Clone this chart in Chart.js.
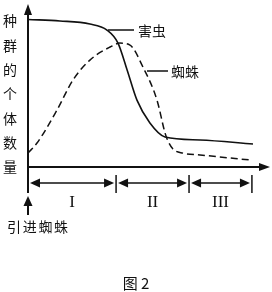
<!DOCTYPE html>
<html><head><meta charset="utf-8">
<script src="https://cdn.jsdelivr.net/npm/chart.js@4"></script>
<style>html,body{margin:0;padding:0;background:#fff}#w{width:272px;height:292px}</style>
</head><body><div id="w"><canvas id="c" width="272" height="292"></canvas></div>
<script>
const pestT = [0, 13.3, 25.8, 32.9, 37.5, 41.3, 45.4, 50.8, 57.1, 71.7, 93.75];
const pestV = [90.5, 89.6, 87.7, 84, 76, 59.5, 41, 27, 18.4, 16.6, 14.1];
const spiderT = [0, 3.75, 12.1, 18.75, 25.8, 34.2, 38.3, 42.5, 47.9, 53.75, 57.1, 58.3, 60.4, 64.6, 71.7, 92.5];
const spiderV = [8.6, 14.7, 35, 53.4, 65.6, 73.6, 76, 74.8, 61.3, 41, 20.9, 16, 11, 8.5, 7.4, 4.3];
const stageBounds = [0, 36.7, 67.1, 93.3];
const stageLabels = ['I', 'II', 'III'];
const yLabel = ['种', '群', '的', '个', '体', '数', '量'];
const seriesNames = ['害虫', '蜘蛛'];
const footNote = ['引', '进', '蜘', '蛛'];
const title = '图 2';

const pts = (t, v) => t.map((x, i) => ({x, y: v[i]}));
const INK = '#111';
function tri(ctx, pts) { ctx.beginPath(); ctx.moveTo(pts[0][0], pts[0][1]); ctx.lineTo(pts[1][0], pts[1][1]); ctx.lineTo(pts[2][0], pts[2][1]); ctx.closePath(); ctx.fill(); }

const deco = {
  id: 'deco',
  afterDraw(chart) {
    const ctx = chart.ctx, xs = chart.scales.x, ys = chart.scales.y, a = chart.chartArea;
    const x0 = xs.getPixelForValue(0), yb = ys.getPixelForValue(0);
    ctx.save();
    ctx.strokeStyle = INK; ctx.fillStyle = INK; ctx.lineWidth = 2;
    // axes
    ctx.beginPath(); ctx.moveTo(x0, yb + 26); ctx.lineTo(x0, a.top + 8); ctx.stroke();
    tri(ctx, [[x0, a.top], [x0 - 4, a.top + 11], [x0 + 4, a.top + 11]]);
    ctx.beginPath(); ctx.moveTo(x0, yb); ctx.lineTo(a.right - 6, yb); ctx.stroke();
    tri(ctx, [[a.right + 2, yb], [a.right - 9, yb - 4], [a.right - 9, yb + 4]]);
    // stages
    const ay = yb + 16;
    ctx.lineWidth = 1.5;
    for (let i = 0; i < stageLabels.length; i++) {
      const l = xs.getPixelForValue(stageBounds[i]) + 2, r = xs.getPixelForValue(stageBounds[i + 1]) - 2;
      ctx.beginPath(); ctx.moveTo(l + 6, ay); ctx.lineTo(r - 6, ay); ctx.stroke();
      tri(ctx, [[l, ay], [l + 10, ay - 4.5], [l + 10, ay + 4.5]]);
      tri(ctx, [[r, ay], [r - 10, ay - 4.5], [r - 10, ay + 4.5]]);
      const bx = xs.getPixelForValue(stageBounds[i + 1]);
      ctx.beginPath(); ctx.moveTo(bx, ay - 8); ctx.lineTo(bx, ay + 10); ctx.stroke();
      ctx.font = '17px "Liberation Serif"'; ctx.textAlign = 'center'; ctx.textBaseline = 'middle';
      ctx.fillText(stageLabels[i], (l + r) / 2, ay + 20);
    }
    // up arrow
    ctx.lineWidth = 2;
    ctx.beginPath(); ctx.moveTo(x0, yb + 37); ctx.lineTo(x0, yb + 48); ctx.stroke();
    tri(ctx, [[x0, yb + 29], [x0 - 4.5, yb + 39], [x0 + 4.5, yb + 39]]);
    ctx.font = '14px "Noto Sans CJK SC"'; ctx.textAlign = 'center'; ctx.textBaseline = 'middle';
    footNote.forEach((ch, i) => ctx.fillText(ch, 14 + i * 15.7, yb + 60));
    // y label
    yLabel.forEach((ch, i) => ctx.fillText(ch, 10, 21 + i * 24.3));
    // series labels with leaders
    ctx.lineWidth = 1.5;
    ctx.beginPath(); ctx.moveTo(108, 30); ctx.lineTo(134, 30); ctx.stroke();
    ctx.beginPath(); ctx.moveTo(147, 71); ctx.lineTo(168, 71); ctx.stroke();
    ctx.textAlign = 'left';
    ctx.fillText(seriesNames[0], 138, 31);
    ctx.fillText(seriesNames[1], 171, 72);
    // title
    ctx.font = '15px "Noto Sans CJK SC"'; ctx.textAlign = 'center';
    ctx.fillText(title, 136, 283);
    ctx.restore();
  }
};

new Chart(document.getElementById('c'), {
  type: 'line',
  data: { datasets: [
    { label: seriesNames[0], data: pts(pestT, pestV), borderColor: INK, borderWidth: 1.6, pointRadius: 0, cubicInterpolationMode: 'monotone', fill: false },
    { label: seriesNames[1], data: pts(spiderT, spiderV), borderColor: INK, borderWidth: 1.5, borderDash: [7, 4], pointRadius: 0, cubicInterpolationMode: 'monotone', fill: false }
  ]},
  options: {
    responsive: false, animation: false, events: [],
    layout: { padding: { left: 28, right: 4, top: 4, bottom: 125 } },
    plugins: { legend: { display: false }, tooltip: { enabled: false } },
    scales: {
      x: { type: 'linear', min: 0, max: 100, display: false },
      y: { min: 0, max: 100, display: false }
    }
  },
  plugins: [deco]
});
</script></body></html>
